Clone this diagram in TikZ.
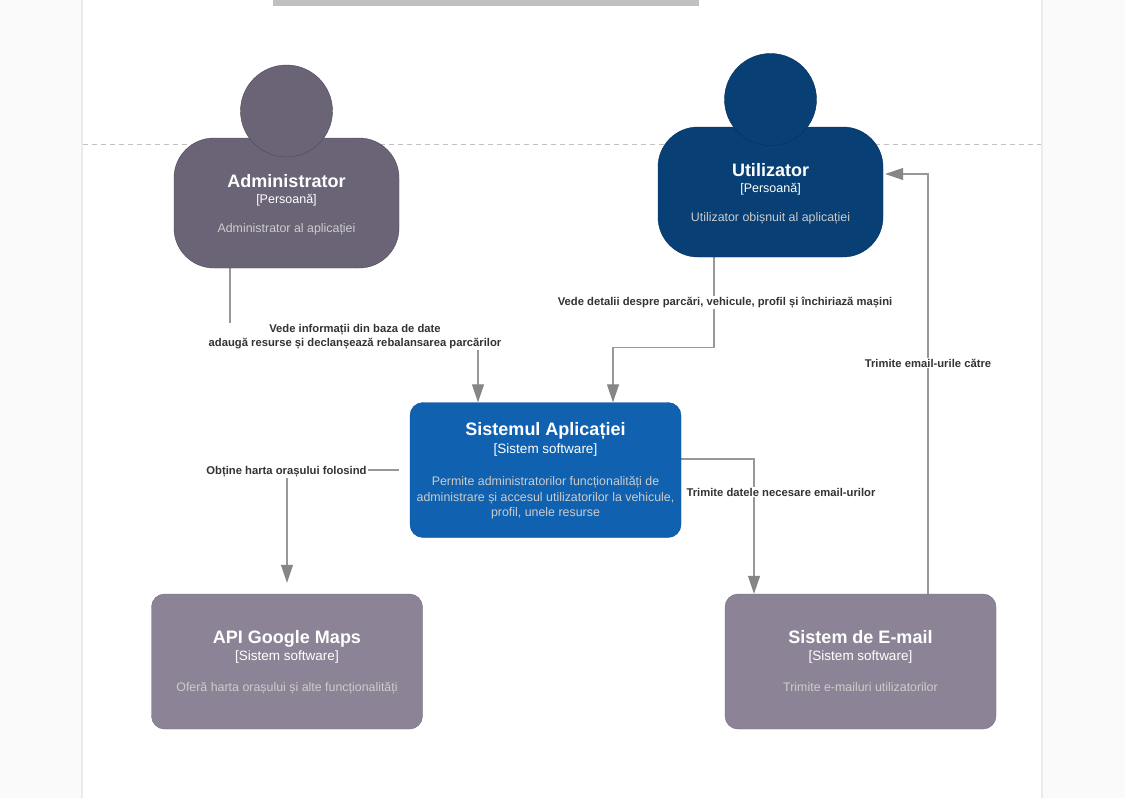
\documentclass[tikz,border=0pt]{standalone}
\usepackage{fontspec}
\setmainfont{Liberation Sans}
\usetikzlibrary{arrows.meta,backgrounds}
\definecolor{admincolor}{HTML}{6B6477}
\definecolor{adminedge}{HTML}{4D4855}
\definecolor{usercolor}{HTML}{083F75}
\definecolor{useredge}{HTML}{06315C}
\definecolor{appcolor}{HTML}{1061B0}
\definecolor{appedge}{HTML}{0D5091}
\definecolor{extcolor}{HTML}{8C8496}
\definecolor{extedge}{HTML}{736782}
\definecolor{linkcolor}{HTML}{989898}
\definecolor{tipcolor}{HTML}{868686}
\definecolor{labelcolor}{HTML}{333333}
\definecolor{desccolor}{HTML}{CCCCCC}
\definecolor{pagecolor}{HTML}{FAFAFA}
\definecolor{sheetedge}{HTML}{DDDDDD}
\definecolor{titlebar}{HTML}{C0C0C2}
\newcommand{\boxtitle}[2][20pt]{{\fontsize{18}{20}\selectfont\bfseries\rule[-5pt]{0pt}{#1}#2}}
\newcommand{\boxtype}[2][13.5]{{\fontsize{#1}{16}\selectfont #2}}
\newcommand{\boxdesc}[1]{{\fontsize{12.4}{17}\selectfont\color{desccolor} #1}}
\tikzset{
	textbox/.style = {text = white, align = center, inner sep = 0pt},
	personbody/.style = {textbox, rounded corners = 40pt, minimum width = 225pt, minimum height = 130pt},
	personhead/.style = {circle, minimum size = 92pt, inner sep = 0pt},
	sysbox/.style = {textbox, rounded corners = 13pt, minimum width = 271pt, minimum height = 135pt},
	adminstyle/.style = {fill = admincolor, draw = adminedge},
	userstyle/.style = {fill = usercolor, draw = useredge},
	appstyle/.style = {fill = appcolor, draw = appedge},
	extstyle/.style = {fill = extcolor, draw = extedge},
	link/.style = {draw = linkcolor, line width = 1.2pt, -{Triangle[length = 18pt, width = 12pt, color = tipcolor]}},
	linklabel/.style = {fill = white, text = labelcolor, align = center, inner sep = 1pt, font = \fontsize{11.25}{14}\selectfont\bfseries}
}
\begin{document}
\begin{tikzpicture} [x = 1pt, y = -1pt]
	\useasboundingbox (0,0) rectangle (1125,798);
	% people
	\node [personbody, adminstyle] (adminbody) at (286.5,203) {\boxtitle[22pt]{Administrator}\\[1pt] \boxtype[12.5]{[Persoană]}\\[17pt] \boxdesc{Administrator al aplicației}};
	\node [personhead, adminstyle] (adminhead) at (286.5,111) {};
	\node [personbody, userstyle] (userbody) at (770.5,192) {\boxtitle[22pt]{Utilizator}\\[1pt] \boxtype[12.5]{[Persoană]}\\[17pt] \boxdesc{Utilizator obișnuit al aplicației}};
	\node [personhead, userstyle] (userhead) at (770.5,99.5) {};
	% systems
	\node [sysbox, appstyle] (app) at (545.5,470) {\boxtitle{Sistemul Aplicației}\\[2pt] \boxtype{[Sistem software]}\\[20pt] \boxdesc{Permite administratorilor funcționalități de}\\[3.5pt] \boxdesc{administrare și accesul utilizatorilor la vehicule,}\\[3.5pt] \boxdesc{profil, unele resurse}};
	\node [sysbox, extstyle] (maps) at (287,661.5) {\boxtitle{API Google Maps}\\[1pt] \boxtype{[Sistem software]}\\[19pt] \boxdesc{Oferă harta orașului și alte funcționalități}};
	\node [sysbox, extstyle] (email) at (860.5,661.5) {\boxtitle{Sistem de E-mail}\\[1pt] \boxtype{[Sistem software]}\\[19pt] \boxdesc{Trimite e-mailuri utilizatorilor\rule[-3pt]{0pt}{0pt}}};
	% labels on the connectors
	\node [linklabel] (adminlabel) at (355,336.5) {Vede informații din baza de date\\ adaugă resurse și declanșează rebalansarea parcărilor};
	\node [linklabel] (userlabel) at (725,302.5) {Vede detalii despre parcări, vehicule, profil și închiriază mașini};
	\node [linklabel] (mapslabel) at (286.5,471.5) {Obține harta orașului folosind};
	\node [linklabel] (datalabel) at (781,492) {Trimite datele necesare email-urilor};
	\node [linklabel] (sendlabel) at (928,363) {Trimite email-urile către};
	\begin{scope} [on background layer]
		% sheet
		\fill [pagecolor] (0,0) rectangle (1125,798);
		\fill [sheetedge!60] (81,0) rectangle (1043,798);
		\fill [white] (83,0) rectangle (1041,798);
		\fill [titlebar] (273,0) rectangle (699,6);
		\draw [titlebar, dash pattern = on 5pt off 4pt] (83,144) -- (1041,144);
		% connectors
		\draw [link] ([xshift = -56.5pt]adminbody.south) |- (adminlabel.center) -| ([xshift = -67.5pt]app.north);
		\draw [link] ([xshift = -56.5pt]userbody.south) -- ++(0,90) -| ([xshift = 67.5pt]app.north);
		\draw [link] ([xshift = -11pt]app.west) -| ([yshift = 11pt]maps.north);
		\draw [link] ([yshift = 11pt]app.east) -| ([xshift = -106.5pt]email.north);
		\draw [link] ([xshift = 67.5pt]email.north) |- ([xshift = 2pt, yshift = 18pt]userbody.east);
	\end{scope}
\end{tikzpicture}
\end{document}
